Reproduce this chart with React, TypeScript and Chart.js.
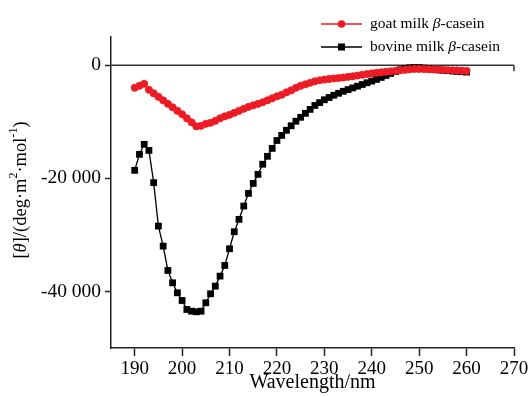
import React, { useEffect, useRef } from 'react';
import { Chart, registerables } from 'chart.js';

Chart.register(...registerables);

const wavelengths = [
  190, 191, 192, 193, 194, 195, 196, 197, 198, 199,
  200, 201, 202, 203, 204, 205, 206, 207, 208, 209,
  210, 211, 212, 213, 214, 215, 216, 217, 218, 219,
  220, 221, 222, 223, 224, 225, 226, 227, 228, 229,
  230, 231, 232, 233, 234, 235, 236, 237, 238, 239,
  240, 241, 242, 243, 244, 245, 246, 247, 248, 249,
  250, 251, 252, 253, 254, 255, 256, 257, 258, 259, 260,
];

const goatValues = [
  -3980, -3630, -3270, -4340, -4960, -5580, -6200, -6810, -7430, -8050,
  -8670, -9380, -10090, -10800, -10710, -10350, -10180, -9820, -9380, -9030,
  -8760, -8410, -8050, -7700, -7350, -7080, -6810, -6550, -6200, -5840,
  -5490, -5220, -4780, -4430, -3980, -3630, -3360, -3100, -2830, -2660,
  -2530, -2420, -2340, -2250, -2160, -2050, -1950, -1810, -1680, -1560,
  -1450, -1330, -1240, -1150, -1060, -970, -890, -800, -710, -650,
  -650, -670, -710, -740, -780, -810, -850, -890, -920, -960, -990,
];

const bovineValues = [
  -18580, -15750, -13980, -15050, -20760, -28440, -31980, -36290, -38470, -40240,
  -41600, -43190, -43490, -43600, -43490, -42000, -40410, -39060, -37290, -35400,
  -32450, -29440, -27260, -24900, -22660, -20890, -19290, -17500, -16100, -14700,
  -13300, -12400, -11500, -10700, -9900, -9200, -8500, -7800, -7100, -6600,
  -6100, -5700, -5300, -4950, -4600, -4300, -4000, -3700, -3400, -3100,
  -2800, -2500, -2150, -1800, -1450, -1100, -800, -600, -450, -400,
  -420, -500, -600, -700, -800, -880, -950, -1020, -1080, -1140, -1200,
];

const xTicks = [190, 200, 210, 220, 230, 240, 250, 260, 270];
const yTicks = [0, -20000, -40000];

const seriesLabels = ['goat milk ', 'bovine milk '];
const xTitle = 'Wavelength/nm';

const RED = '#ec1c24';
const BLACK = '#000000';
const FONT = '"Liberation Serif", "Times New Roman", serif';

function fmt(v: number): string {
  if (v === 0) return '0';
  const s = Math.abs(v).toString();
  const parts: string[] = [];
  for (let i = s.length; i > 0; i -= 3) parts.unshift(s.slice(Math.max(0, i - 3), i));
  return (v < 0 ? '-' : '') + parts.join(' ');
}

const decorPlugin = {
  id: 'decor',
  beforeDatasetsDraw(chart: any) {
    const { ctx, scales } = chart;
    const x = scales.x;
    const y = scales.y;
    const y0 = y.getPixelForValue(0);
    ctx.save();
    ctx.strokeStyle = '#333';
    ctx.lineWidth = 1.5;
    ctx.beginPath();
    ctx.moveTo(x.left, y0);
    ctx.lineTo(x.right, y0);
    ctx.moveTo(x.right, y0);
    ctx.lineTo(x.right, y0 + 6);
    ctx.stroke();
    ctx.restore();
  },
  afterDraw(chart: any) {
    const { ctx } = chart;
    ctx.save();
    // Y title
    const size = 18.5;
    const pieces = [
      { t: '[', it: false, sup: false },
      { t: '\u03b8', it: true, sup: false },
      { t: ']/(deg\u00b7m', it: false, sup: false },
      { t: '2', it: false, sup: true },
      { t: '\u00b7mol', it: false, sup: false },
      { t: '-1', it: false, sup: true },
      { t: ')', it: false, sup: false },
    ];
    const fontFor = (p: any) => `${p.it ? 'italic ' : ''}${p.sup ? size * 0.65 : size}px ${FONT}`;
    let total = 0;
    for (const p of pieces) {
      ctx.font = fontFor(p);
      total += ctx.measureText(p.t).width;
    }
    ctx.translate(21, 190);
    ctx.rotate(-Math.PI / 2);
    ctx.fillStyle = '#000';
    ctx.textBaseline = 'middle';
    ctx.textAlign = 'left';
    let cx = -total / 2;
    for (const p of pieces) {
      ctx.font = fontFor(p);
      ctx.fillText(p.t, cx, p.sup ? -size * 0.38 : 0);
      cx += ctx.measureText(p.t).width;
    }
    ctx.restore();

    // Legend
    ctx.save();
    const items = [
      { label: seriesLabels[0], color: RED, style: 'circle', y: 24 },
      { label: seriesLabels[1], color: BLACK, style: 'rect', y: 47 },
    ];
    const lsize = 15.5;
    for (const it of items) {
      ctx.strokeStyle = it.color;
      ctx.fillStyle = it.color;
      ctx.lineWidth = 1.5;
      ctx.beginPath();
      ctx.moveTo(321, it.y);
      ctx.lineTo(362, it.y);
      ctx.stroke();
      ctx.beginPath();
      if (it.style === 'circle') {
        ctx.arc(341.5, it.y, 3.8, 0, Math.PI * 2);
      } else {
        ctx.rect(338, it.y - 3.5, 7, 7);
      }
      ctx.fill();
      ctx.fillStyle = '#000';
      ctx.textBaseline = 'middle';
      ctx.textAlign = 'left';
      let tx = 370;
      ctx.font = `${lsize}px ${FONT}`;
      ctx.fillText(it.label, tx, it.y);
      tx += ctx.measureText(it.label).width;
      ctx.font = `italic ${lsize}px ${FONT}`;
      ctx.fillText('\u03b2', tx, it.y);
      tx += ctx.measureText('\u03b2').width;
      ctx.font = `${lsize}px ${FONT}`;
      ctx.fillText('-casein', tx, it.y);
    }
    ctx.restore();
  },
};

export default function App() {
  const ref = useRef<HTMLCanvasElement | null>(null);

  useEffect(() => {
    if (!ref.current) return;
    const chart = new Chart(ref.current, {
      type: 'line',
      data: {
        datasets: [
          {
            label: 'goat milk \u03b2-casein',
            data: wavelengths.map((w, i) => ({ x: w, y: goatValues[i] })),
            borderColor: RED,
            backgroundColor: RED,
            borderWidth: 2,
            pointStyle: 'circle',
            pointRadius: 3.6,
            pointBorderWidth: 0.8,
            pointBackgroundColor: RED,
            pointBorderColor: RED,
            tension: 0,
          },
          {
            label: 'bovine milk \u03b2-casein',
            data: wavelengths.map((w, i) => ({ x: w, y: bovineValues[i] })),
            borderColor: BLACK,
            backgroundColor: BLACK,
            borderWidth: 1.3,
            pointStyle: 'rect',
            pointRadius: 4.8,
            pointBorderWidth: 0,
            pointBackgroundColor: BLACK,
            tension: 0,
          },
        ],
      },
      options: {
        animation: false,
        responsive: false,
        devicePixelRatio: 1,
        layout: { padding: { top: 37, right: 17, left: 0, bottom: 0 } },
        plugins: {
          legend: { display: false },
          tooltip: { enabled: false },
        },
        scales: {
          x: {
            type: 'linear',
            min: 185,
            max: 270,
            afterBuildTicks: (s: any) => {
              s.ticks = xTicks.map((v) => ({ value: v }));
            },
            afterFit: (s: any) => {
              s.height = 49;
            },
            border: { display: true, color: '#222', width: 1.5 },
            grid: { display: true, drawOnChartArea: false, tickLength: 8, tickColor: '#222', tickWidth: 1.5 },
            ticks: {
              color: '#000',
              padding: 2,
              maxRotation: 0,
              font: { family: FONT, size: 19 },
              callback: (v: any) => String(v),
            },
            title: {
              display: true,
              text: xTitle,
              color: '#000',
              font: { family: FONT, size: 20 },
              padding: { top: 0, bottom: 2 },
            },
          },
          y: {
            type: 'linear',
            min: -50000,
            max: 5000,
            afterBuildTicks: (s: any) => {
              s.ticks = yTicks.map((v) => ({ value: v }));
            },
            afterFit: (s: any) => {
              s.width = 111;
            },
            border: { display: true, color: '#222', width: 1.5 },
            grid: { display: true, drawOnChartArea: false, tickLength: 6, tickColor: '#222', tickWidth: 1.5 },
            ticks: {
              color: '#000',
              padding: 4,
              font: { family: FONT, size: 19.5 },
              callback: (v: any) => fmt(Number(v)),
            },
          },
        },
      },
      plugins: [decorPlugin],
    });
    return () => chart.destroy();
  }, []);

  return (
    <div style={{ position: 'fixed', left: 0, top: 0, width: 531, height: 397, background: '#fff' }}>
      <canvas ref={ref} width={531} height={397} style={{ display: 'block' }} />
    </div>
  );
}
